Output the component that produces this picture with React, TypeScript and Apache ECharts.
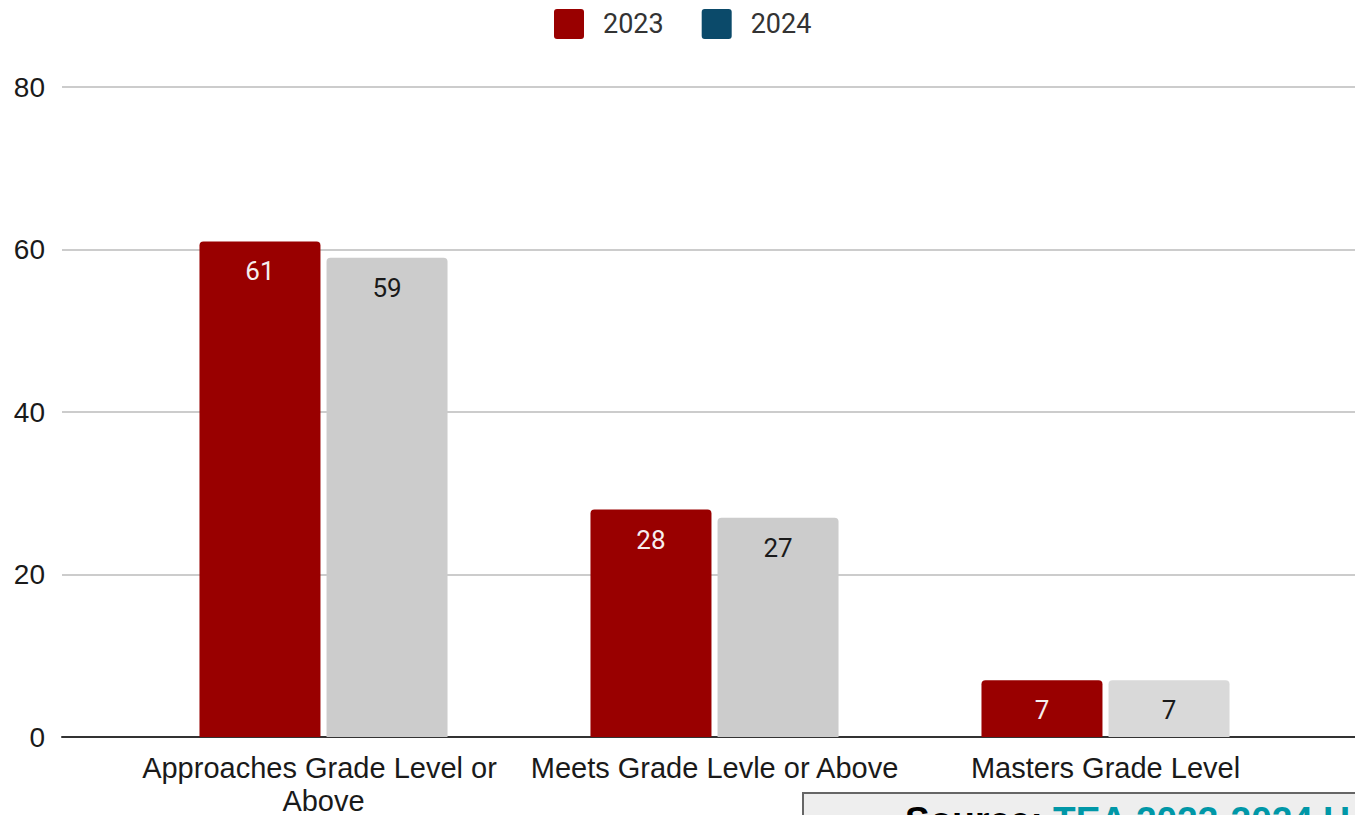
import React, { useEffect, useRef } from "react";
import * as echarts from "echarts";

const categories = ["Approaches Grade Level or Above", "Meets Grade Levle or Above", "Masters Grade Level"];
const values2023 = [61, 28, 7];
const values2024 = [59, 27, 7];
const colors2024 = ["#cccccc", "#cccccc", "#d9d9d9"];
const seriesNames = ["2023", "2024"];
const yTicks = { min: 0, max: 80, interval: 20 };

export default function App() {
  const ref = useRef<HTMLDivElement>(null);
  useEffect(() => {
    const chart = echarts.init(ref.current!, null, { renderer: "svg" });
    const gridTop = 87;
    const gridBottom = 78;
    chart.setOption({
      animation: false,
      backgroundColor: "#ffffff",
      legend: {
        left: 549,
        top: 4,
        icon: "path://M3,0 L27,0 Q30,0 30,3 L30,27 Q30,30 27,30 L3,30 Q0,30 0,27 L0,3 Q0,0 3,0 Z",
        itemWidth: 30,
        itemHeight: 30,
        itemGap: 38,
        textStyle: { fontFamily: "Roboto", fontSize: 27, color: "#333333", padding: [0, 0, 0, 14] },
        data: [
          { name: seriesNames[0], itemStyle: { color: "#990000" } },
          { name: seriesNames[1], itemStyle: { color: "#0b4a6a" } },
        ],
      },
      grid: [
        { left: 128, right: 54, top: gridTop, bottom: gridBottom, containLabel: false, outerBoundsMode: "none" },
        { left: 62, right: 0, top: gridTop, bottom: gridBottom, containLabel: false, outerBoundsMode: "none" },
      ],
      xAxis: [
        {
          type: "category",
          gridIndex: 0,
          data: categories,
          axisLine: { show: false },
          axisTick: { show: false },
          axisLabel: {
            interval: 0,
            margin: 14,
            width: 390,
            overflow: "break",
            lineHeight: 33,
            fontFamily: "Liberation Sans, Arial",
            fontSize: 29,
            color: "#1a1a1a",
          },
        },
        {
          type: "value",
          gridIndex: 1,
          min: 0,
          max: 1,
          axisLine: { show: true, onZero: true, lineStyle: { color: "#333333", width: 2 } },
          axisTick: { show: false },
          axisLabel: { show: false },
          splitLine: { show: false },
        },
      ],
      yAxis: [
        {
          type: "value",
          gridIndex: 0,
          ...yTicks,
          axisLine: { show: false },
          axisTick: { show: false },
          axisLabel: { show: false },
          splitLine: { show: false },
        },
        {
          type: "value",
          gridIndex: 1,
          ...yTicks,
          axisLine: { show: false },
          axisTick: { show: false },
          axisLabel: { margin: 17, fontFamily: "Liberation Sans, Arial", fontSize: 28, color: "#1a1a1a" },
          splitLine: { show: true, lineStyle: { color: "#cccccc", width: 2 } },
        },
      ],
      series: [
        {
          name: seriesNames[0],
          type: "bar",
          xAxisIndex: 0,
          yAxisIndex: 0,
          z: 5,
          barWidth: 121,
          barGap: "5%",
          data: values2023,
          itemStyle: { color: "#990000", borderRadius: [4, 4, 0, 0] },
          label: {
            show: true,
            position: "insideTop",
            distance: 17,
            fontFamily: "Roboto",
            fontSize: 26,
            color: "#f6eeee",
          },
        },
        {
          name: seriesNames[1],
          type: "bar",
          xAxisIndex: 0,
          yAxisIndex: 0,
          z: 5,
          barWidth: 121,
          barGap: "5%",
          data: values2024.map((v, i) => ({ value: v, itemStyle: { color: colors2024[i] } })),
          itemStyle: { color: "#cccccc", borderRadius: [4, 4, 0, 0] },
          label: {
            show: true,
            position: "insideTop",
            distance: 17,
            fontFamily: "Roboto",
            fontSize: 26,
            color: "#1a1a1a",
          },
        },
      ],
      graphic: [
        {
          type: "rect",
          z: 100,
          shape: { x: 803, y: 793, width: 620, height: 60 },
          style: { fill: "#eeeeee", stroke: "#666666", lineWidth: 2 },
        },
        {
          type: "text",
          z: 101,
          x: 905,
          y: 802,
          style: {
            text: "{a|Source: }{b|TEA 2023-2024 U}",
            verticalAlign: "top",
            rich: {
              a: { fontFamily: "Liberation Sans, Arial", fontWeight: "bold", fontSize: 37, fill: "#000000" },
              b: { fontFamily: "Liberation Sans, Arial", fontWeight: "bold", fontSize: 37, fill: "#0097a7" },
            },
          },
        },
      ],
    });
    return () => chart.dispose();
  }, []);
  return (
    <div
      ref={ref}
      style={{ position: "fixed", left: 0, top: 0, width: 1355, height: 815, overflow: "hidden" }}
    />
  );
}
